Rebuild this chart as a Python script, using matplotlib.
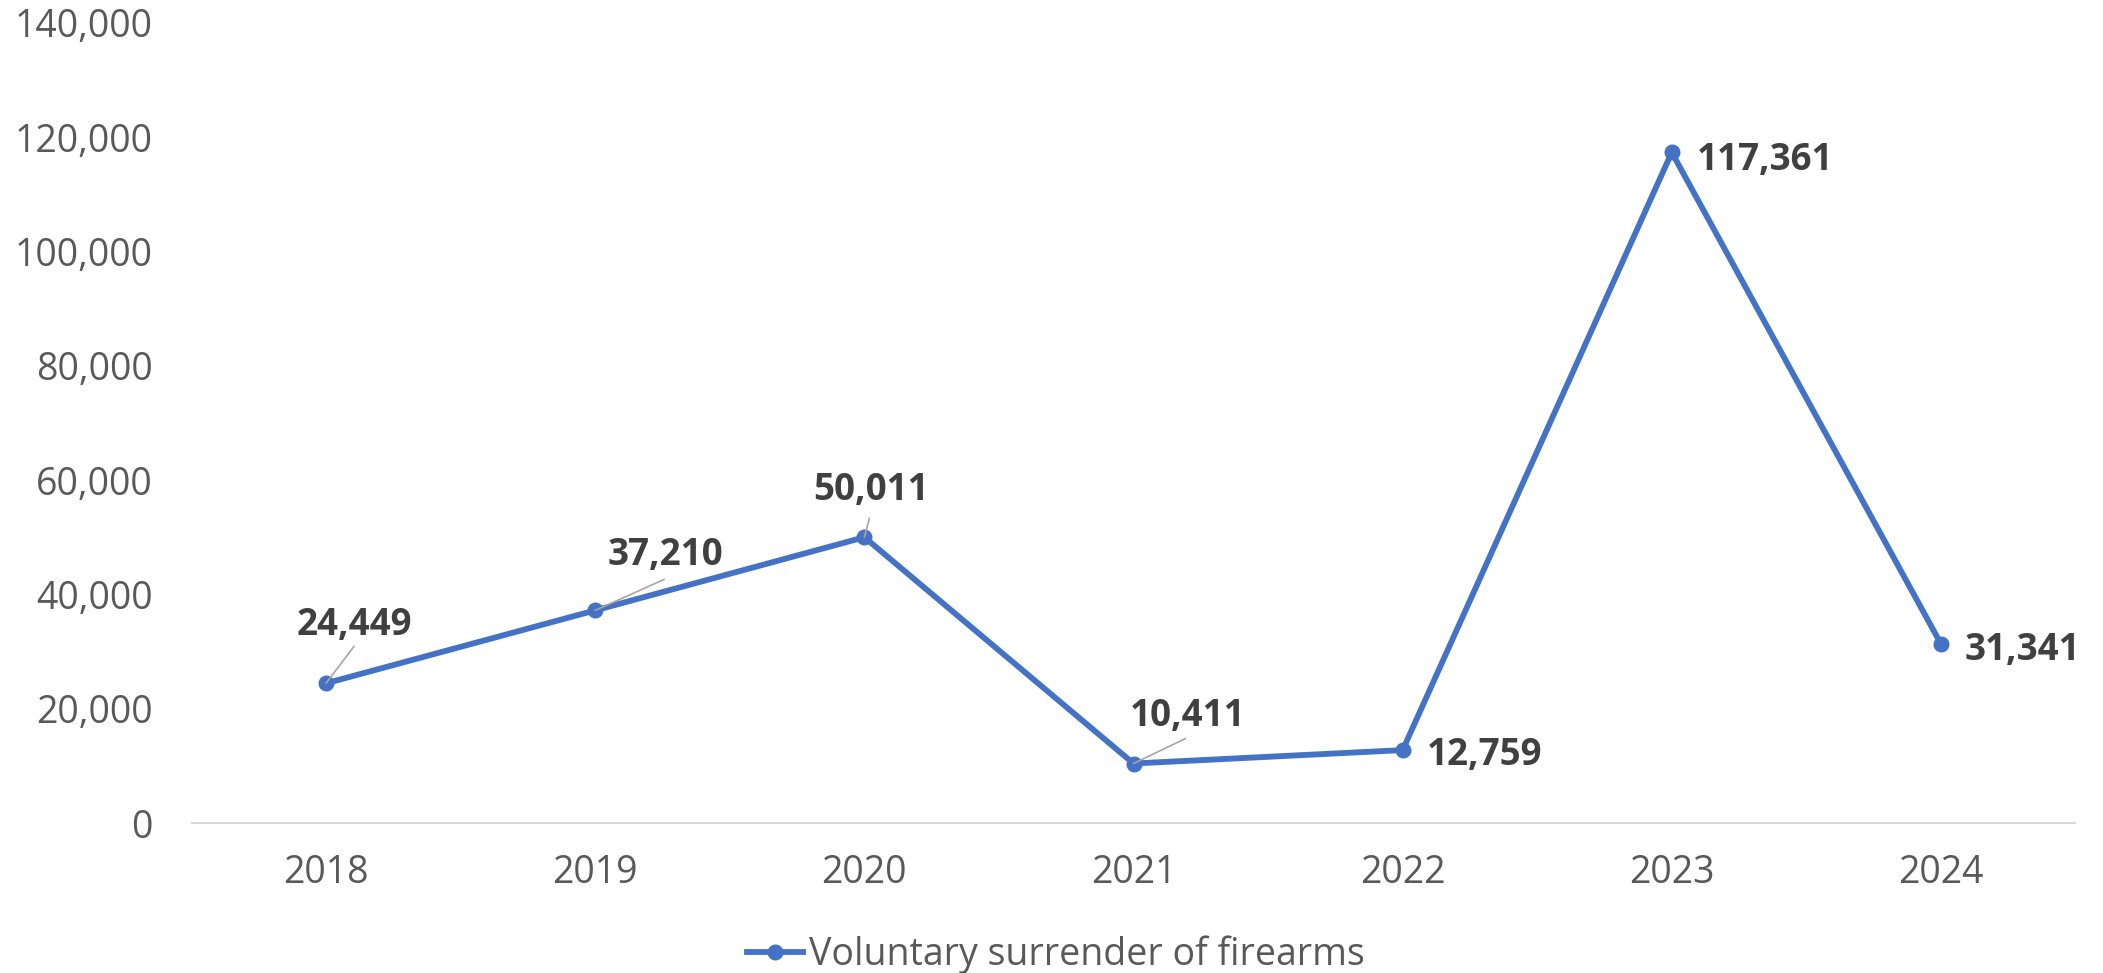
import matplotlib
matplotlib.use("Agg")
import matplotlib.pyplot as plt
from matplotlib.ticker import FuncFormatter

years = ["2018", "2019", "2020", "2021", "2022", "2023", "2024"]
surrendered = [24449, 37210, 50011, 10411, 12759, 117361, 31341]
series_name = "Voluntary surrender of firearms"
y_ticks = [0, 20000, 40000, 60000, 80000, 100000, 120000, 140000]

LINE_COLOR = "#4472C4"
TICK_COLOR = "#595959"
LABEL_COLOR = "#404040"
LEADER_COLOR = "#A6A6A6"
FONT = ["Open Sans", "DejaVu Sans"]

plt.rcParams["font.family"] = FONT

fig = plt.figure(figsize=(21.03, 9.73), dpi=100)
ax = fig.add_axes([191.5 / 2103, 1 - 823 / 973, (2075.5 - 191.5) / 2103, 800 / 973])

x = list(range(len(years)))
ax.plot(x, surrendered, color=LINE_COLOR, lw=4.2, marker="o", markersize=10.5,
        solid_joinstyle="round", label=series_name, zorder=3)

ax.set_xlim(-0.5, len(years) - 0.5)
ax.set_ylim(y_ticks[0], y_ticks[-1])
ax.set_yticks(y_ticks)
ax.yaxis.set_major_formatter(FuncFormatter(lambda v, p: f"{int(v):,}"))
ax.set_xticks(x)
ax.set_xticklabels(years)

for s in ["top", "right", "left"]:
    ax.spines[s].set_visible(False)
ax.spines["bottom"].set_color("#D9D9D9")
ax.spines["bottom"].set_linewidth(1.5)
ax.tick_params(axis="both", length=0, labelsize=27, labelcolor=TICK_COLOR)
ax.tick_params(axis="y", pad=28)
ax.tick_params(axis="x", pad=22)

# label placement: (label offset px, leader end offset px or None, ha)
placements = [
    ((28, 63), (28, 37), "center"),
    ((70, 60), (69, 31), "center"),
    ((7, 52), (5, 19), "center"),
    ((54, 52), (52, 25), "center"),
    ((24, 0), None, "left"),
    ((25, -3), None, "left"),
    ((24, -2), None, "left"),
]

for xi, v, (lab, lead, ha) in zip(x, surrendered, placements):
    if lead is not None:
        ax.annotate("", xy=(xi, v), xytext=lead, textcoords="offset pixels",
                    arrowprops=dict(arrowstyle="-", color=LEADER_COLOR, lw=1.2,
                                    shrinkA=0, shrinkB=0), zorder=4)
    ax.annotate(f"{v:,}", xy=(xi, v), xytext=lab, textcoords="offset pixels",
                ha=ha, va="center_baseline", fontsize=26.5, fontweight="bold",
                color=LABEL_COLOR, zorder=5)

leg = fig.legend(loc="center", bbox_to_anchor=(0.502, 1 - 955 / 973), frameon=False,
                 fontsize=27, handlelength=1.5, handletextpad=0.15, borderpad=0)
for t in leg.get_texts():
    t.set_color(TICK_COLOR)

fig.savefig("out.png", dpi=100)
